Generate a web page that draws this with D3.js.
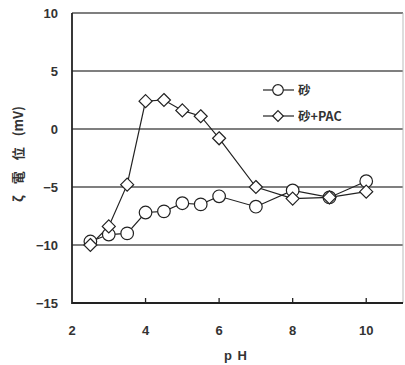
<!DOCTYPE html>
<html><head><meta charset="utf-8">
<script src="https://cdn.jsdelivr.net/npm/d3@7/dist/d3.min.js"></script>
<style>body{margin:0;background:#fff}svg{display:block}</style>
</head><body>
<svg id="c" width="405" height="365"></svg>
<script>
const phSand = [2.5,3,3.5,4,4.5,5,5.5,6,7,8,9,10];
const zetaSand = [-9.7,-9.1,-9.0,-7.2,-7.1,-6.4,-6.5,-5.8,-6.7,-5.3,-5.9,-4.5];
const phPac = [2.5,3,3.5,4,4.5,5,5.5,6,7,8,9,10];
const zetaPac = [-10.0,-8.4,-4.8,2.4,2.5,1.6,1.1,-0.8,-5.0,-6.0,-5.9,-5.4];
const xTicks = [2,4,6,8,10];
const yTicks = [-15,-10,-5,0,5,10];
const seriesNames = ["砂","砂+PAC"];

const svg = d3.select("#c");
const L=72, R=403, T=13, B=303;
const x = d3.scaleLinear().domain([2,11]).range([L,R]);
const y = d3.scaleLinear().domain([-15,10]).range([B,T]);
const font = "'Liberation Sans', Arial, sans-serif";

// grid lines
svg.append("g").selectAll("line").data(yTicks.filter(v=>v>-15)).join("line")
  .attr("x1",L).attr("x2",R).attr("y1",d=>y(d)).attr("y2",d=>y(d))
  .attr("stroke","#555").attr("stroke-width",1.3);
// right border faint
svg.append("line").attr("x1",R).attr("x2",R).attr("y1",T).attr("y2",B)
  .attr("stroke","#bbb").attr("stroke-width",1);
// axes
svg.append("line").attr("x1",L).attr("x2",L).attr("y1",T).attr("y2",B+1)
  .attr("stroke","#222").attr("stroke-width",1.8);
svg.append("line").attr("x1",L).attr("x2",R).attr("y1",B).attr("y2",B)
  .attr("stroke","#222").attr("stroke-width",1.8);
// x tick marks (inward)
svg.append("g").selectAll("line").data(xTicks.slice(1)).join("line")
  .attr("x1",d=>x(d)).attr("x2",d=>x(d)).attr("y1",B).attr("y2",B-5)
  .attr("stroke","#222").attr("stroke-width",1.3);

// tick labels
svg.append("g").selectAll("text").data(yTicks).join("text")
  .attr("x",58).attr("y",d=>y(d)+4.5).attr("text-anchor","end")
  .attr("font-family",font).attr("font-size",13).attr("font-weight","bold").attr("fill","#333")
  .text(d=>d<0?"\u2212"+Math.abs(d):d);
svg.append("g").selectAll("text").data(xTicks).join("text")
  .attr("x",d=>x(d)).attr("y",335).attr("text-anchor","middle")
  .attr("font-family",font).attr("font-size",13).attr("font-weight","bold").attr("fill","#333")
  .text(d=>d);
// axis titles
svg.append("text").attr("x",236).attr("y",360).attr("text-anchor","middle")
  .attr("font-family",font).attr("font-size",13).attr("font-weight","bold").attr("fill","#333")
  .attr("letter-spacing",1).text("p H");
const yt = svg.append("text").attr("transform","translate(23,154) rotate(-90)").attr("text-anchor","middle")
  .attr("font-family","'Noto Sans CJK JP', sans-serif").attr("font-size",13).attr("font-weight","bold").attr("fill","#333");
yt.append("tspan").attr("letter-spacing",4).text("ζ 電 位 ");
yt.append("tspan").text("(mV)");

const line = d3.line().x(d=>x(d[0])).y(d=>y(d[1]));
const sand = phSand.map((p,i)=>[p,zetaSand[i]]);
const pac = phPac.map((p,i)=>[p,zetaPac[i]]);

svg.append("path").datum(sand).attr("d",line).attr("fill","none").attr("stroke","#222").attr("stroke-width",1.2);
svg.append("path").datum(pac).attr("d",line).attr("fill","none").attr("stroke","#222").attr("stroke-width",1.2);

function drawCircle(g,cx,cy,r){ g.append("circle").attr("cx",cx).attr("cy",cy).attr("r",r).attr("fill","#fff").attr("stroke","#222").attr("stroke-width",1.2); }
function drawDiamond(g,cx,cy,s){ g.append("path").attr("d",`M${cx},${cy-s}L${cx+s},${cy}L${cx},${cy+s}L${cx-s},${cy}Z`).attr("fill","#fff").attr("stroke","#222").attr("stroke-width",1.2); }

const gm = svg.append("g");
sand.forEach(d=>drawCircle(gm,x(d[0]),y(d[1]),6.3));
pac.forEach(d=>drawDiamond(gm,x(d[0]),y(d[1]),6.5));

// legend
const lg = svg.append("g");
[0,1].forEach(i=>{
  const ly = 90 + i*26;
  lg.append("line").attr("x1",263).attr("x2",294).attr("y1",ly).attr("y2",ly).attr("stroke","#222").attr("stroke-width",1.2);
  if(i===0) drawCircle(lg,278,ly,5.3); else drawDiamond(lg,278,ly,5.3);
  lg.append("text").attr("x",298).attr("y",ly+4.5)
    .attr("font-family","'Noto Sans CJK JP', sans-serif").attr("font-size",12.5).attr("font-weight","bold").attr("fill","#333")
    .text(seriesNames[i]);
});
</script>
</body></html>
